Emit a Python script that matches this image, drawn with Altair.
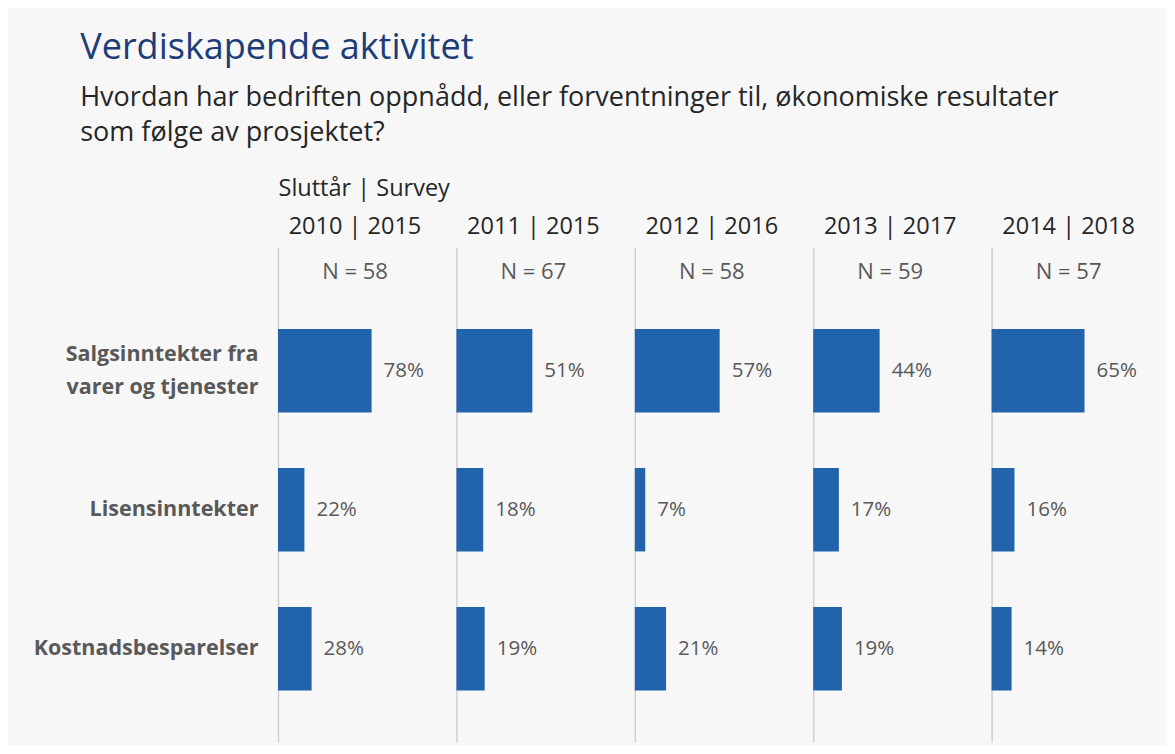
import altair as alt
import pandas as pd

# ---- data ----
periods = ["2010 | 2015", "2011 | 2015", "2012 | 2016", "2013 | 2017", "2014 | 2018"]
n_values = [58, 67, 58, 59, 57]
categories = ["Salgsinntekter fra\nvarer og tjenester", "Lisensinntekter", "Kostnadsbesparelser"]
salg = [0.78, 0.51, 0.57, 0.44, 0.65]
lisens = [0.22, 0.18, 0.07, 0.17, 0.16]
kostnad = [0.28, 0.19, 0.21, 0.19, 0.14]
# per-panel axis maximum (each small chart has its own scale in the original)
axis_max = [1.283, 1.034, 1.034, 1.02, 1.077]

rows = []
for i, p in enumerate(periods):
    for cat, series in zip(categories, [salg, lisens, kostnad]):
        rows.append({"period": p, "category": cat, "value": series[i]})
data = pd.DataFrame(rows)

BLUE = "#2264ab"
GRAY_TXT = "#595959"
DARK_TXT = "#262626"
LINE = "#d0d0d0"
FONT = "Open Sans"

PANEL_W = 154
PANEL_H = 495


def panel(i):
    df = data[data["period"] == periods[i]]
    if i == 0:
        yaxis = alt.Axis(
            labels=True, ticks=False, domain=True, domainColor=LINE, domainWidth=1.5,
            labelFont=FONT, labelFontSize=21.5, labelFontWeight="bold", labelColor=GRAY_TXT,
            labelPadding=20, labelLimit=320, labelLineHeight=33,
            labelExpr="split(datum.label, '\\n')",
            labelOffset=alt.condition("indexof(datum.value, '\\n') >= 0",
                                      alt.value(-16), alt.value(0)),
            title="Sluttår | Survey", titleAngle=0, titleAlign="left", titleX=0, titleY=-52,
            titleBaseline="alphabetic", titleFont=FONT, titleFontSize=23.5,
            titleFontWeight="normal", titleColor=DARK_TXT,
        )
        title_offset = -107
    else:
        yaxis = alt.Axis(labels=False, ticks=False, title=None, domain=True,
                         domainColor=LINE, domainWidth=1.5)
        title_offset = -36
    y = alt.Y("category:N", sort=categories,
              scale=alt.Scale(paddingInner=0.4, paddingOuter=0.48, align=0.614),
              axis=yaxis)
    x = alt.X("value:Q", scale=alt.Scale(domain=[0, axis_max[i]]), axis=None)
    bars = alt.Chart(df).mark_bar(color=BLUE).encode(x=x, y=y)
    labels = alt.Chart(df).mark_text(
        align="left", baseline="middle", dx=12, font=FONT, fontSize=20.5, color=GRAY_TXT
    ).encode(x=x, y=y, text=alt.Text("value:Q", format=".0%"))
    return alt.layer(bars, labels).properties(
        width=PANEL_W, height=PANEL_H,
        title=alt.TitleParams(
            text=periods[i], subtitle=f"N = {n_values[i]}", anchor="middle",
            font=FONT, fontSize=23.5, fontWeight="normal", color=DARK_TXT,
            subtitleFont=FONT, subtitleFontSize=22, subtitleColor=GRAY_TXT,
            subtitlePadding=24, offset=title_offset,
        ),
    )


chart = alt.hconcat(*[panel(i) for i in range(len(periods))], spacing=24.4,
                    bounds="flush").properties(
    title=alt.TitleParams(
        text="Verdiskapende aktivitet",
        subtitle=["Hvordan har bedriften oppnådd, eller forventninger til, økonomiske resultater",
                  "som følge av prosjektet?"],
        anchor="start", font=FONT, fontSize=36, fontWeight="normal", color="#1c3d78",
        subtitleFont=FONT, subtitleFontSize=27, subtitleColor=DARK_TXT,
        subtitleLineHeight=35, subtitlePadding=18, offset=29, dx=47,
    ),
    background="#f7f7f7",
    padding={"left": 25, "top": 22, "right": 20, "bottom": 4},
).configure_view(stroke=None)

chart.save("out.html", embed_options={"renderer": "svg", "actions": False})
